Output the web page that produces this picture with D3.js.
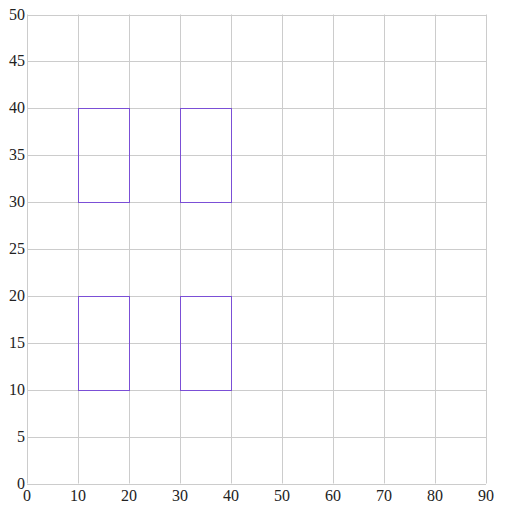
<!DOCTYPE html>
<html><head><meta charset="utf-8">
<script src="https://cdn.jsdelivr.net/npm/d3@7"></script>
<style>body{margin:0;background:#fff}</style>
</head><body>
<svg id="c" width="519" height="513"></svg>
<script>
const xTicks = [0,10,20,30,40,50,60,70,80,90];
const yTicks = [0,5,10,15,20,25,30,35,40,45,50];
const rectX0 = [10,30,10,30];
const rectX1 = [20,40,20,40];
const rectY0 = [10,10,30,30];
const rectY1 = [20,20,40,40];

const svg = d3.select("#c");
const L=27, R=486, T=14.5, B=483.5;
const x = d3.scaleLinear().domain([0,90]).range([L,R]);
const y = d3.scaleLinear().domain([0,50]).range([B,T]);
const g = svg.append("g");
g.selectAll("line.v").data(xTicks).join("line")
  .attr("x1",d=>Math.round(x(d))+0.5).attr("x2",d=>Math.round(x(d))+0.5)
  .attr("y1",T).attr("y2",B).attr("stroke","#ccc");
g.selectAll("line.h").data(yTicks).join("line")
  .attr("y1",d=>Math.round(y(d))+0.5).attr("y2",d=>Math.round(y(d))+0.5)
  .attr("x1",L).attr("x2",R).attr("stroke","#ccc");
const font = "'Liberation Serif', 'Times New Roman', serif";
g.selectAll("text.x").data(xTicks).join("text")
  .attr("x",d=>x(d)).attr("y",B+17).attr("text-anchor","middle")
  .attr("font-family",font).attr("font-size",16).attr("fill","#222").text(d=>d);
g.selectAll("text.y").data(yTicks).join("text")
  .attr("x",L-2).attr("y",d=>y(d)+5).attr("text-anchor","end")
  .attr("font-family",font).attr("font-size",16).attr("fill","#222").text(d=>d);
const idx = d3.range(rectX0.length);
svg.selectAll("rect.b").data(idx).join("rect")
  .attr("x",i=>Math.round(x(rectX0[i]))+0.5)
  .attr("y",i=>Math.round(y(rectY1[i]))+0.5)
  .attr("width",i=>Math.round(x(rectX1[i]))-Math.round(x(rectX0[i])))
  .attr("height",i=>Math.round(y(rectY0[i]))-Math.round(y(rectY1[i])))
  .attr("fill","none").attr("stroke","#7b4fd6").attr("stroke-width",1);
</script>
</body></html>
